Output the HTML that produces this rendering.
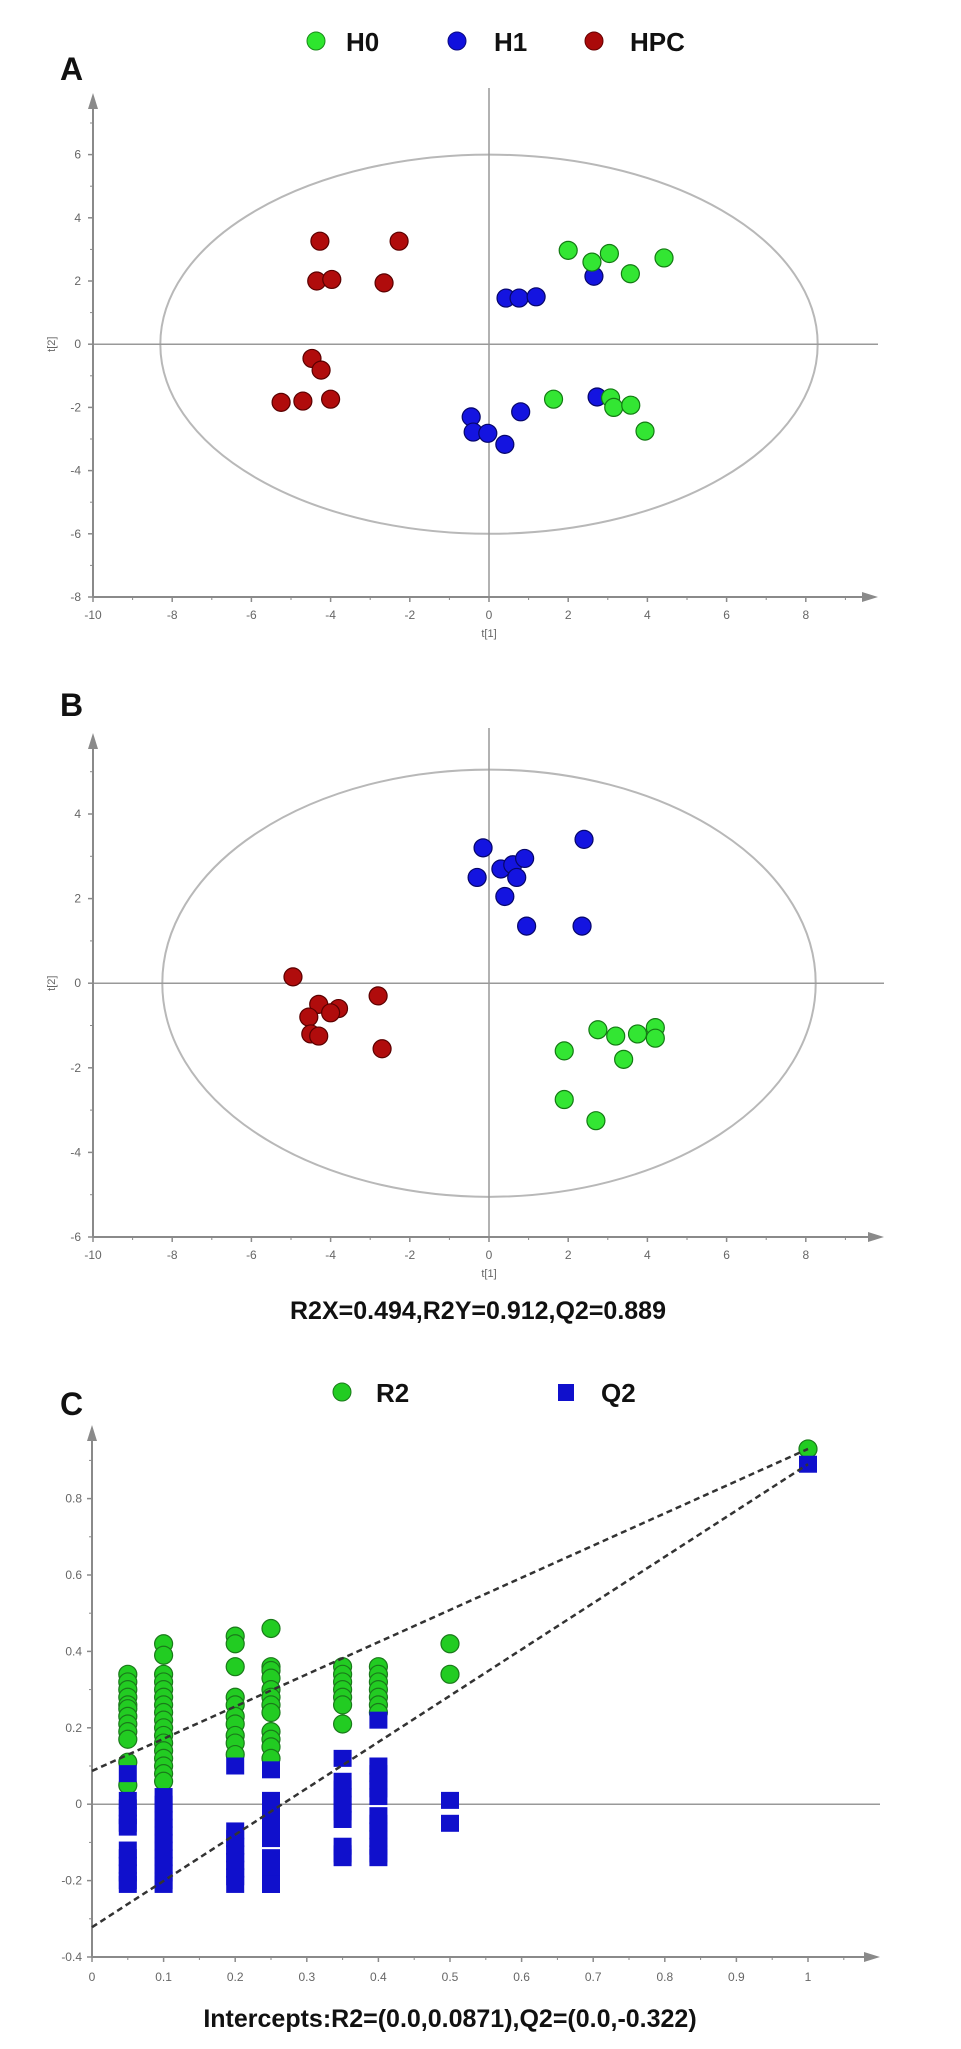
<!DOCTYPE html>
<html><head><meta charset="utf-8">
<style>
html,body{margin:0;padding:0;background:#fff;}
body{width:961px;height:2049px;overflow:hidden;font-family:"Liberation Sans",Arial,sans-serif;}
svg{display:block;}
</style></head>
<body>
<svg id="fig" width="961" height="2049" viewBox="0 0 961 2049" xmlns="http://www.w3.org/2000/svg" font-family="Liberation Sans, Arial, sans-serif">
  <!-- Legend A -->
  <g>
    <circle cx="316" cy="41" r="9" fill="#2ee62e" stroke="#1a8a1a" stroke-width="1"/>
    <text x="346" y="51" font-size="26" font-weight="bold" fill="#111">H0</text>
    <circle cx="457" cy="41" r="9" fill="#1010dd" stroke="#0a0a80" stroke-width="1"/>
    <text x="494" y="51" font-size="26" font-weight="bold" fill="#111">H1</text>
    <circle cx="594" cy="41" r="9" fill="#aa0a0a" stroke="#600" stroke-width="1"/>
    <text x="630" y="51" font-size="26" font-weight="bold" fill="#111">HPC</text>
  </g>
  <text x="60" y="80" font-size="32" font-weight="bold" fill="#111">A</text>
  <g id="panelA"></g>

  <text x="60" y="716" font-size="32" font-weight="bold" fill="#111">B</text>
  <g id="panelB"></g>
  <text x="478" y="1319" text-anchor="middle" font-size="25" font-weight="bold" fill="#111">R2X=0.494,R2Y=0.912,Q2=0.889</text>

  <text x="60" y="1415" font-size="32" font-weight="bold" fill="#111">C</text>
  <g>
    <circle cx="342" cy="1392" r="9" fill="#22cc22" stroke="#1a7a1a" stroke-width="1"/>
    <text x="376" y="1402" font-size="26" font-weight="bold" fill="#111">R2</text>
    <rect x="558" y="1384" width="16" height="17" fill="#1010cc"/>
    <text x="601" y="1402" font-size="26" font-weight="bold" fill="#111">Q2</text>
  </g>
  <g id="panelC"></g>
  <text x="450" y="2027" text-anchor="middle" font-size="25" font-weight="bold" fill="#111">Intercepts:R2=(0.0,0.0871),Q2=(0.0,-0.322)</text>
</svg>
<script>
// ---------- Panel A data ----------
const aH0x = [2.0, 2.6, 3.04, 3.57, 4.42, 1.63, 3.07, 3.15, 3.58, 3.94];
const aH0y = [2.97, 2.6, 2.87, 2.23, 2.73, -1.74, -1.7, -2.0, -1.93, -2.75];
const aH1x = [0.43, 0.76, 1.19, 2.65, 2.73, -0.45, -0.4, -0.03, 0.4, 0.8];
const aH1y = [1.46, 1.46, 1.5, 2.15, -1.67, -2.3, -2.78, -2.82, -3.17, -2.14];
const aHPCx = [-4.27, -2.27, -4.35, -3.97, -2.65, -4.47, -4.24, -5.25, -4.7, -4.0];
const aHPCy = [3.26, 3.26, 2.0, 2.05, 1.94, -0.45, -0.82, -1.84, -1.8, -1.74];
const aXTicks = [-10, -8, -6, -4, -2, 0, 2, 4, 6, 8];
const aYTicks = [6, 4, 2, 0, -2, -4, -6, -8];
// ---------- Panel B data ----------
const bH0x = [1.9, 2.75, 3.2, 3.75, 4.2, 4.2, 3.4, 1.9, 2.7];
const bH0y = [-1.6, -1.1, -1.25, -1.2, -1.05, -1.3, -1.8, -2.75, -3.25];
const bH1x = [-0.15, -0.3, 0.3, 0.6, 0.9, 0.7, 0.4, 0.95, 2.4, 2.35];
const bH1y = [3.2, 2.5, 2.7, 2.8, 2.95, 2.5, 2.05, 1.35, 3.4, 1.35];
const bHPCx = [-4.95, -4.3, -3.8, -4.0, -4.55, -4.5, -4.3, -2.8, -2.7];
const bHPCy = [0.15, -0.5, -0.6, -0.7, -0.8, -1.2, -1.25, -0.3, -1.55];
const bXTicks = [-10, -8, -6, -4, -2, 0, 2, 4, 6, 8];
const bYTicks = [4, 2, 0, -2, -4, -6];
// ---------- Panel C data ----------
const cR2x = [0.05,0.05,0.05,0.05,0.05,0.05,0.05,0.05,0.05,0.05,0.05,0.05,
  0.1,0.1,0.1,0.1,0.1,0.1,0.1,0.1,0.1,0.1,0.1,0.1,0.1,0.1,0.1,0.1,0.1,
  0.2,0.2,0.2,0.2,0.2,0.2,0.2,0.2,0.2,0.2,
  0.25,0.25,0.25,0.25,0.25,0.25,0.25,0.25,0.25,0.25,0.25,0.25,
  0.35,0.35,0.35,0.35,0.35,0.35,0.35,
  0.4,0.4,0.4,0.4,0.4,0.4,0.4,
  0.5,0.5, 1];
const cR2y = [0.34,0.32,0.30,0.28,0.26,0.25,0.23,0.21,0.19,0.17,0.11,0.05,
  0.42,0.39,0.34,0.32,0.30,0.28,0.26,0.24,0.22,0.20,0.18,0.16,0.14,0.12,0.10,0.08,0.06,
  0.44,0.42,0.36,0.28,0.26,0.23,0.21,0.18,0.16,0.13,
  0.46,0.36,0.35,0.33,0.30,0.28,0.26,0.24,0.19,0.17,0.15,0.12,
  0.36,0.34,0.32,0.30,0.28,0.26,0.21,
  0.36,0.34,0.32,0.30,0.28,0.26,0.24,
  0.42,0.34, 0.93];
const cQ2x = [0.05,0.05,0.05,0.05,0.05,0.05,0.05,0.05,0.05,0.05,0.05,0.05,
  0.1,0.1,0.1,0.1,0.1,0.1,0.1,0.1,0.1,0.1,0.1,0.1,0.1,
  0.2,0.2,0.2,0.2,0.2,0.2,0.2,0.2,0.2,
  0.25,0.25,0.25,0.25,0.25,0.25,0.25,0.25,0.25,0.25,0.25,0.25,0.25,
  0.35,0.35,0.35,0.35,0.35,0.35,0.35,0.35,0.35,0.35,
  0.4,0.4,0.4,0.4,0.4,0.4,0.4,0.4,0.4,0.4,0.4,0.4,0.4,
  0.5,0.5, 1];
const cQ2y = [0.08,0.01,-0.01,-0.03,-0.05,-0.06,-0.12,-0.14,-0.16,-0.18,-0.2,-0.21,
  0.02,0.0,-0.02,-0.04,-0.06,-0.08,-0.1,-0.12,-0.14,-0.16,-0.18,-0.2,-0.21,
  0.1,-0.07,-0.09,-0.11,-0.13,-0.15,-0.17,-0.19,-0.21,
  0.09,0.01,-0.01,-0.03,-0.05,-0.07,-0.09,-0.14,-0.16,-0.18,-0.2,-0.21,-0.21,
  0.12,0.06,0.04,0.02,0.0,-0.02,-0.04,-0.11,-0.13,-0.14,
  0.22,0.1,0.08,0.06,0.04,0.02,-0.03,-0.05,-0.07,-0.09,-0.11,-0.13,-0.14,
  0.01,-0.05, 0.89];
const cInterceptR2 = [0.0871, 0.93];
const cInterceptQ2 = [-0.322, 0.89];
const cXTicks = [0,0.1,0.2,0.3,0.4,0.5,0.6,0.7,0.8,0.9,1];
const cYTicks = [0.8,0.6,0.4,0.2,0,-0.2,-0.4];

const NS = 'http://www.w3.org/2000/svg';
function mk(parent, tag, attrs) {
  const e = document.createElementNS(NS, tag);
  for (const k in attrs) e.setAttribute(k, attrs[k]);
  parent.appendChild(e);
  return e;
}
const AX = '#8a8a8a', LBL = '#666';

function scorePlot(g, cfg) {
  const sx = v => cfg.x0 + (v - cfg.xmin) * cfg.kx;
  const sy = v => cfg.y0 - (v - cfg.ymin) * cfg.ky;
  // ellipse
  const el = mk(g, 'ellipse', {cx: sx(0), cy: sy(0), rx: cfg.erx * cfg.kx, ry: cfg.ery * cfg.ky, fill: 'none', stroke: '#b8b8b8', 'stroke-width': 2});
  
  
  // zero lines
  const zh = mk(g, 'line', {x1: cfg.x0, x2: cfg.xend, y1: sy(0), y2: sy(0), stroke: '#999', 'stroke-width': 1.5});
  
  
  const zv = mk(g, 'line', {x1: sx(0), x2: sx(0), y1: cfg.ytop - 5, y2: cfg.y0, stroke: '#999', 'stroke-width': 1.5});
  
  
  // axes
  const xa = mk(g, 'line', {x1: cfg.x0, x2: cfg.xend - 12, y1: cfg.y0, y2: cfg.y0, stroke: AX, 'stroke-width': 2});
  
  
  const xar = mk(g, 'path', {d: `M${cfg.xend},${cfg.y0} l-16,-5 l0,10 z`, fill: AX});
  
  
  const ya = mk(g, 'line', {x1: cfg.x0, x2: cfg.x0, y1: cfg.ytop + 12, y2: cfg.y0, stroke: AX, 'stroke-width': 2});
  
  
  const yar = mk(g, 'path', {d: `M${cfg.x0},${cfg.ytop} l-5,16 l10,0 z`, fill: AX});
  
  
  cfg.xt.forEach((v, i) => {
    const t = mk(g, 'line', {x1: sx(v), x2: sx(v), y1: cfg.y0, y2: cfg.y0 + 5, stroke: AX, 'stroke-width': 1.5});
    
    
    const m = mk(g, 'line', {x1: sx(v + cfg.xstep / 2), x2: sx(v + cfg.xstep / 2), y1: cfg.y0, y2: cfg.y0 + 3, stroke: AX, 'stroke-width': 1});
    
    
    const l = mk(g, 'text', {x: sx(v), y: cfg.y0 + 22, 'text-anchor': 'middle', 'font-size': 12, fill: LBL});
    l.textContent = v;
    
    
  });
  cfg.yt.forEach((v, i) => {
    const t = mk(g, 'line', {x1: cfg.x0 - 5, x2: cfg.x0, y1: sy(v), y2: sy(v), stroke: AX, 'stroke-width': 1.5});
    
    
    const m = mk(g, 'line', {x1: cfg.x0 - 3, x2: cfg.x0, y1: sy(v + cfg.ystep / 2), y2: sy(v + cfg.ystep / 2), stroke: AX, 'stroke-width': 1});
    
    
    const l = mk(g, 'text', {x: cfg.x0 - 12, y: sy(v) + 4, 'text-anchor': 'end', 'font-size': 12, fill: LBL});
    l.textContent = v;
    
    
  });
  const xt = mk(g, 'text', {x: sx(0), y: cfg.y0 + 40, 'text-anchor': 'middle', 'font-size': 11, fill: LBL});
  xt.textContent = 't[1]';
  
  
  const yt = mk(g, 'text', {x: 0, y: 0, 'text-anchor': 'middle', 'font-size': 11, fill: LBL, transform: `translate(${cfg.x0 - 38},${sy(0)}) rotate(-90)`});
  yt.textContent = 't[2]';
  
  
  const series = [
    [cfg.hpcx, cfg.hpcy, '#b00c0c', '#5a0000', 'point-hpc'],
    [cfg.h1x, cfg.h1y, '#1414e0', '#06066a', 'point-h1'],
    [cfg.h0x, cfg.h0y, '#33e633', '#137a13', 'point-h0']
  ];
  series.forEach(s => {
    s[0].forEach((xv, i) => {
      const c = mk(g, 'circle', {cx: sx(xv), cy: sy(s[1][i]), r: 9, fill: s[2], stroke: s[3], 'stroke-width': 1.2});
      
      
    });
  });
}

scorePlot(document.getElementById('panelA'), {
  x0: 93, y0: 597, xmin: -10, ymin: -8, kx: 39.6, ky: 31.6, xend: 878, ytop: 93,
  erx: 8.3, ery: 6.0, xt: aXTicks, yt: aYTicks, xstep: 2, ystep: 2,
  h0x: aH0x, h0y: aH0y, h1x: aH1x, h1y: aH1y, hpcx: aHPCx, hpcy: aHPCy
});
scorePlot(document.getElementById('panelB'), {
  x0: 93, y0: 1237, xmin: -10, ymin: -6, kx: 39.6, ky: 42.3, xend: 884, ytop: 733,
  erx: 8.25, ery: 5.05, xt: bXTicks, yt: bYTicks, xstep: 2, ystep: 2,
  h0x: bH0x, h0y: bH0y, h1x: bH1x, h1y: bH1y, hpcx: bHPCx, hpcy: bHPCy
});

// Panel C
(function () {
  const g = document.getElementById('panelC');
  const x0 = 92, y0 = 1957, kx = 716, ky = 382, ymin = -0.4, xend = 880, ytop = 1425;
  const sx = v => x0 + v * kx;
  const sy = v => y0 - (v - ymin) * ky;
  const zh = mk(g, 'line', {x1: x0, x2: xend, y1: sy(0), y2: sy(0), stroke: '#999', 'stroke-width': 1.5});
  
  
  const xa = mk(g, 'line', {x1: x0, x2: xend - 12, y1: y0, y2: y0, stroke: AX, 'stroke-width': 2});
  
  
  const xar = mk(g, 'path', {d: `M${xend},${y0} l-16,-5 l0,10 z`, fill: AX});
  
  
  const ya = mk(g, 'line', {x1: x0, x2: x0, y1: ytop + 12, y2: y0, stroke: AX, 'stroke-width': 2});
  
  
  const yar = mk(g, 'path', {d: `M${x0},${ytop} l-5,16 l10,0 z`, fill: AX});
  
  
  cXTicks.forEach(v => {
    const t = mk(g, 'line', {x1: sx(v), x2: sx(v), y1: y0, y2: y0 + 5, stroke: AX, 'stroke-width': 1.5});
    
    
    const m = mk(g, 'line', {x1: sx(v + 0.05), x2: sx(v + 0.05), y1: y0, y2: y0 + 3, stroke: AX, 'stroke-width': 1});
    
    
    const l = mk(g, 'text', {x: sx(v), y: y0 + 24, 'text-anchor': 'middle', 'font-size': 12, fill: LBL});
    l.textContent = v;
    
    
  });
  cYTicks.forEach(v => {
    const t = mk(g, 'line', {x1: x0 - 5, x2: x0, y1: sy(v), y2: sy(v), stroke: AX, 'stroke-width': 1.5});
    
    
    const m = mk(g, 'line', {x1: x0 - 3, x2: x0, y1: sy(v + 0.1), y2: sy(v + 0.1), stroke: AX, 'stroke-width': 1});
    
    
    const l = mk(g, 'text', {x: x0 - 10, y: sy(v) + 4, 'text-anchor': 'end', 'font-size': 12, fill: LBL});
    l.textContent = v;
    
    
  });
  cR2x.forEach((xv, i) => {
    const c = mk(g, 'circle', {cx: sx(xv), cy: sy(cR2y[i]), r: 9, fill: '#22cc22', stroke: '#1a7a1a', 'stroke-width': 1.2});
    
    
  });
  cQ2x.forEach((xv, i) => {
    const r = mk(g, 'rect', {x: sx(xv) - 9, y: sy(cQ2y[i]) - 8.5, width: 18, height: 17, fill: '#1010cc'});
    
    
  });
  const l1 = mk(g, 'line', {x1: sx(0), y1: sy(cInterceptR2[0]), x2: sx(1), y2: sy(cInterceptR2[1]), stroke: '#333', 'stroke-width': 2.5, 'stroke-dasharray': '6,4'});
  
  
  const l2 = mk(g, 'line', {x1: sx(0), y1: sy(cInterceptQ2[0]), x2: sx(1), y2: sy(cInterceptQ2[1]), stroke: '#333', 'stroke-width': 2.5, 'stroke-dasharray': '6,4'});
  
  
})();
</script>
</body></html>
